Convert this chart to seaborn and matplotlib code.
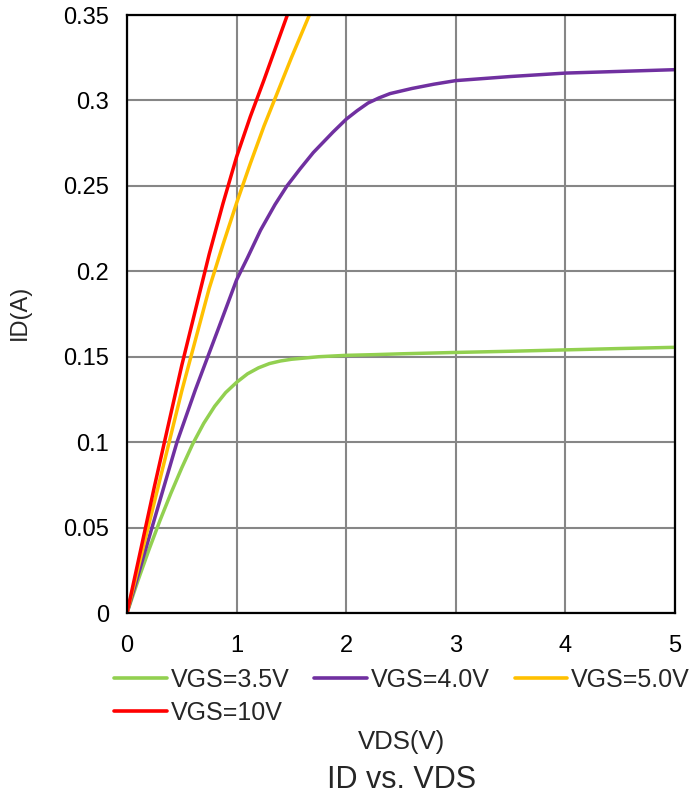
import matplotlib
matplotlib.use("Agg")
import matplotlib.pyplot as plt
import seaborn as sns
import pandas as pd
from matplotlib.lines import Line2D

# ---- data ----
vds_35 = [0, 0.1, 0.2, 0.3, 0.4, 0.5, 0.6, 0.7, 0.8, 0.9, 1.0, 1.1, 1.2, 1.3, 1.4,
          1.5, 1.75, 2.0, 2.25, 2.5, 3.0, 3.5, 4.0, 4.5, 5.0]
id_35 = [0, 0.019, 0.037, 0.054, 0.070, 0.085, 0.099, 0.111, 0.121, 0.129, 0.135,
         0.140, 0.1435, 0.146, 0.1475, 0.1485, 0.150, 0.1508, 0.1512, 0.1517,
         0.1525, 0.1532, 0.154, 0.1548, 0.1555]

vds_40 = [0, 0.228, 0.456, 0.623, 0.74, 0.837, 1.0, 1.1, 1.218, 1.35, 1.46, 1.58,
          1.70, 1.88, 2.0, 2.1, 2.2, 2.3, 2.4, 2.6, 2.8, 3.0, 3.5, 4.0, 4.5, 5.0]
id_40 = [0, 0.050, 0.100, 0.1305, 0.1505, 0.167, 0.195, 0.208, 0.224, 0.239, 0.250,
         0.260, 0.2695, 0.2815, 0.289, 0.294, 0.2985, 0.3015, 0.304, 0.307, 0.3095,
         0.3116, 0.314, 0.316, 0.317, 0.318]

vds_50 = [0, 0.25, 0.5, 0.75, 0.875, 1.0, 1.125, 1.25, 1.5, 1.664, 1.70]
id_50 = [0, 0.065, 0.130, 0.190, 0.2155, 0.240, 0.263, 0.285, 0.325, 0.350, 0.355]

vds_10 = [0, 0.25, 0.5, 0.75, 0.875, 1.0, 1.125, 1.25, 1.463, 1.50]
id_10 = [0, 0.074, 0.145, 0.210, 0.2395, 0.267, 0.2905, 0.312, 0.350, 0.3565]

series_labels = ["VGS=3.5V", "VGS=4.0V", "VGS=5.0V", "VGS=10V"]
series_colors = ["#92D050", "#7030A0", "#FFC000", "#FF0000"]
x_ticks = [0, 1, 2, 3, 4, 5]
y_ticks = [0, 0.05, 0.1, 0.15, 0.2, 0.25, 0.3, 0.35]
y_tick_labels = ["0", "0.05", "0.1", "0.15", "0.2", "0.25", "0.3", "0.35"]

frames = []
for lab, xs, ys in zip(series_labels,
                       [vds_35, vds_40, vds_50, vds_10],
                       [id_35, id_40, id_50, id_10]):
    frames.append(pd.DataFrame({"VDS": xs, "ID": ys, "series": lab}))
df = pd.concat(frames, ignore_index=True)

sns.set_style("white")
plt.rcParams["font.family"] = ["Liberation Sans", "DejaVu Sans"]

fig = plt.figure(figsize=(6.99, 7.98), dpi=100)
ax = fig.add_axes([127 / 699, 1 - 613 / 798, 548 / 699, 598 / 798])

sns.lineplot(data=df, x="VDS", y="ID", hue="series", hue_order=series_labels,
             palette=dict(zip(series_labels, series_colors)), linewidth=2.5,
             legend=False, ax=ax, sort=False, estimator=None)
for ln in ax.lines:
    ln.set_solid_joinstyle("round")
    ln.set_solid_capstyle("round")

ax.set_xlim(0, 5)
ax.set_ylim(0, 0.35)
ax.set_xticks(x_ticks)
ax.set_xticklabels([str(t) for t in x_ticks])
ax.set_yticks(y_ticks)
ax.set_yticklabels(y_tick_labels)
ax.grid(True, color="#868686", linewidth=1.5)
ax.set_axisbelow(True)
for sp in ax.spines.values():
    sp.set_color("black")
    sp.set_linewidth(1.6)
    sp.set_visible(True)
ax.tick_params(axis="both", length=0, labelsize=17, colors="black")
ax.tick_params(axis="y", pad=13)
ax.tick_params(axis="x", pad=16)
ax.set_xlabel("")
ax.set_ylabel("")

# legend: column-major order so row 1 = 3.5, 4.0, 5.0 ; row 2 = 10
handles = [Line2D([0], [0], color=c, linewidth=2.6) for c in series_colors]
order = [0, 3, 1, 2]
fig.legend([handles[i] for i in order], [series_labels[i] for i in order],
           ncol=3, loc="center", bbox_to_anchor=(402 / 699, 1 - 696.5 / 798),
           frameon=False, fontsize=18, handlelength=2.1, handletextpad=0.15,
           columnspacing=1.0, labelspacing=0.35, borderpad=0, borderaxespad=0)

fig.text(402 / 699, 1 - 742 / 798, "VDS(V)", ha="center", va="center", fontsize=18.5)
fig.text(402 / 699, 1 - 780 / 798, "ID vs. VDS", ha="center", va="center", fontsize=22)
fig.text(20 / 699, 1 - 312 / 798, "ID(A)", ha="center", va="center", rotation=90,
         fontsize=17)

fig.savefig("out.png", dpi=100)
